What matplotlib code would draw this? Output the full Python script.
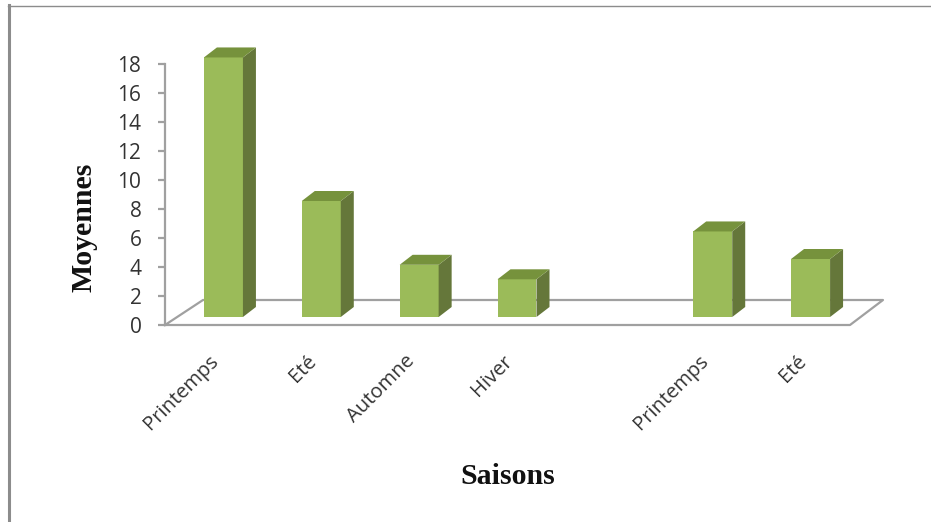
import matplotlib
matplotlib.use("Agg")
import matplotlib.pyplot as plt
from matplotlib.patches import Polygon

categories = ["Printemps", "Eté", "Automne", "Hiver", "", "Printemps", "Eté"]
moyennes = [17.9, 8.0, 3.6, 2.6, None, 5.9, 4.0]
y_ticks = [0, 2, 4, 6, 8, 10, 12, 14, 16, 18]

FRONT = "#9bbb59"
SIDE = "#65773a"
TOP = "#76923c"
AXIS = "#a0a0a0"
TEXT = "#333333"

W, H = 931, 522
LEFT, RIGHT, Y0, Y18 = 165, 850, 325, 64
PX_X = (RIGHT - LEFT) / len(categories)
PX_Y = (Y0 - Y18) / 18

plt.rcParams["font.family"] = ["Open Sans", "DejaVu Sans"]

fig = plt.figure(figsize=(W / 100, H / 100), dpi=100)
ax = fig.add_axes([LEFT / W, 1 - Y0 / H, (RIGHT - LEFT) / W, (Y0 - Y18) / H])
ax.set_xlim(-0.5, len(categories) - 0.5)
ax.set_ylim(0, 18)
ax.patch.set_visible(False)
for name in ["top", "right", "bottom"]:
    ax.spines[name].set_visible(False)
ax.spines["left"].set_color(AXIS)
ax.spines["left"].set_linewidth(1.6)

# floor of the 3D box, in pixel offsets from the axis origin
fx, fy = 38 / PX_X, 25 / PX_Y
x0, x1 = -0.5, len(categories) - 0.5
floor = [(x0, 0), (x0 + fx, fy), (x1 + 33 / PX_X, fy), (x1, 0), (x0, 0)]
ax.plot(*zip(*floor), color=AXIS, lw=1.6, clip_on=False, zorder=1)

# bars: front face plus skewed side and top faces
width = 39 / PX_X
dx, dy = 13 / PX_X, 10 / PX_Y
base = 8 / PX_Y
shift = 9.5 / PX_X
for i, v in enumerate(moyennes):
    if v is None:
        continue
    l, r = i + shift - width / 2, i + shift + width / 2
    t = base + v
    ax.add_patch(Polygon([(l, base), (r, base), (r, t), (l, t)],
                         fc=FRONT, ec="none", zorder=3, clip_on=False))
    ax.add_patch(Polygon([(r, base), (r + dx, base + dy), (r + dx, t + dy), (r, t)],
                         fc=SIDE, ec="none", zorder=3, clip_on=False))
    ax.add_patch(Polygon([(l, t), (r, t), (r + dx, t + dy), (l + dx, t + dy)],
                         fc=TOP, ec="none", zorder=3, clip_on=False))

ax.set_yticks(y_ticks)
ax.tick_params(axis="y", length=5, width=1.6, color=AXIS, labelsize=15, labelcolor=TEXT, pad=12)
ax.set_xticks([])

# category labels are rotated and anchored at their upper right end
for i, name in enumerate(categories):
    if name:
        ax.annotate(name, xy=(i, 0), xycoords="data", xytext=(-5, -26), textcoords="offset pixels",
                    rotation=45, rotation_mode="anchor", ha="right", va="top",
                    fontsize=14.5, color=TEXT)

fig.text(508 / W, 1 - 476 / H, "Saisons", family="Liberation Serif", weight="bold",
         fontsize=21.5, ha="center", va="center", color="#111111")
fig.text(84 / W, 1 - 227 / H, "Moyennes", family="Liberation Serif", weight="bold",
         fontsize=21.5, rotation=90, ha="center", va="center", color="#111111")

# outer chart frame, top and left edges only
fig.add_artist(plt.Line2D([8.5 / W, 8.5 / W], [0, 1 - 5 / H], color="#8c8c8c", lw=2.2))
fig.add_artist(plt.Line2D([8 / W, 1], [1 - 5.5 / H, 1 - 5.5 / H], color="#8c8c8c", lw=1.0))

fig.savefig("out.png", dpi=100)
